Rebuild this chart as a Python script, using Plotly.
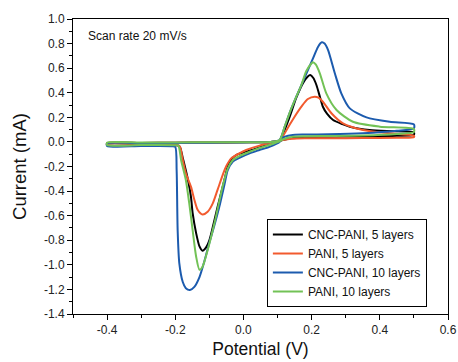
import plotly.graph_objects as go

# ---- data (potential V, current mA), closed CV loops ----
cnc5_v = [-0.4, -0.3, -0.2, -0.1, 0.0, 0.08, 0.105, 0.115, 0.135, 0.155, 0.175, 0.188, 0.196, 0.205, 0.214,
          0.225, 0.233, 0.245, 0.263, 0.29, 0.312, 0.34, 0.37, 0.42, 0.5,
          0.5, 0.45, 0.35, 0.25, 0.18, 0.14, 0.115, 0.1, 0.076, 0.047, 0.02, 0.0, -0.02, -0.035, -0.045,
          -0.056, -0.066, -0.076, -0.088, -0.1, -0.11, -0.12, -0.129, -0.139, -0.149, -0.154, -0.165,
          -0.178, -0.185, -0.19, -0.2, -0.3, -0.4, -0.4]
cnc5_i = [-0.01, -0.008, -0.006, -0.005, -0.003, 0.0, 0.008, 0.06, 0.2, 0.36, 0.48, 0.53, 0.544, 0.52, 0.463,
          0.36, 0.286, 0.23, 0.178, 0.145, 0.124, 0.108, 0.097, 0.088, 0.078,
          0.058, 0.05, 0.045, 0.042, 0.04, 0.03, 0.015, 0.003, -0.02, -0.045, -0.07, -0.085, -0.105, -0.14, -0.19,
          -0.31, -0.42, -0.53, -0.67, -0.8, -0.86, -0.885, -0.85, -0.74, -0.58, -0.446, -0.28,
          -0.13, -0.05, -0.03, -0.027, -0.026, -0.025, -0.01]

pani5_v = [-0.4, -0.3, -0.2, -0.1, 0.0, 0.08, 0.106, 0.121, 0.135, 0.15, 0.17, 0.189, 0.209, 0.22, 0.233,
           0.258, 0.292, 0.351, 0.429, 0.5,
           0.5, 0.45, 0.35, 0.25, 0.18, 0.14, 0.115, 0.106, 0.086, 0.047, 0.008, -0.012, -0.036, -0.051,
           -0.061, -0.076, -0.09, -0.105, -0.12, -0.134, -0.144, -0.154, -0.169, -0.178, -0.186, -0.19,
           -0.2, -0.3, -0.4, -0.4]
pani5_i = [-0.01, -0.008, -0.006, -0.005, -0.003, 0.0, 0.01, 0.07, 0.137, 0.205, 0.287, 0.349, 0.368, 0.36, 0.327,
           0.233, 0.151, 0.097, 0.07, 0.05,
           0.038, 0.034, 0.031, 0.03, 0.03, 0.025, 0.015, 0.01, -0.006, -0.03, -0.066, -0.093, -0.134, -0.2,
           -0.27, -0.39, -0.5, -0.568, -0.59, -0.554, -0.47, -0.364, -0.255, -0.147, -0.04, -0.03,
           -0.027, -0.026, -0.025, -0.01]

cnc10_v = [-0.4, -0.3, -0.2, -0.1, 0.0, 0.08, 0.106, 0.121, 0.135, 0.155, 0.17, 0.189, 0.204, 0.219, 0.23,
           0.238, 0.248, 0.268, 0.287, 0.312, 0.361, 0.429, 0.5,
           0.5, 0.45, 0.35, 0.25, 0.18, 0.14, 0.115, 0.106, 0.076, 0.047, 0.018, -0.012, -0.031, -0.046,
           -0.056, -0.071, -0.085, -0.1, -0.115, -0.129, -0.144, -0.157, -0.169, -0.178, -0.188, -0.193,
           -0.196, -0.2, -0.21, -0.3, -0.4, -0.4]
cnc10_i = [-0.012, -0.01, -0.008, -0.006, -0.004, 0.0, 0.015, 0.124, 0.233, 0.368, 0.463, 0.585, 0.68, 0.775, 0.81,
           0.8, 0.748, 0.558, 0.395, 0.273, 0.2, 0.164, 0.143,
           0.11, 0.09, 0.07, 0.062, 0.06, 0.055, 0.035, 0.0, -0.04, -0.066, -0.093, -0.13, -0.16, -0.23,
           -0.35, -0.53, -0.676, -0.82, -0.975, -1.1, -1.18, -1.205, -1.19, -1.14, -0.99, -0.72,
           -0.23, -0.04, -0.035, -0.034, -0.033, -0.012]

pani10_v = [-0.4, -0.3, -0.2, -0.1, 0.0, 0.08, 0.106, 0.121, 0.135, 0.155, 0.17, 0.184, 0.2, 0.204, 0.212,
            0.224, 0.243, 0.273, 0.321, 0.4, 0.5,
            0.5, 0.45, 0.35, 0.25, 0.18, 0.14, 0.115, 0.106, 0.076, 0.047, 0.018, -0.012, -0.031, -0.046,
            -0.061, -0.085, -0.11, -0.12, -0.129, -0.139, -0.149, -0.159, -0.169, -0.183, -0.191, -0.2,
            -0.3, -0.4, -0.4]
pani10_i = [-0.006, -0.005, -0.004, -0.003, -0.002, 0.0, 0.015, 0.124, 0.233, 0.368, 0.463, 0.575, 0.64, 0.648, 0.63,
            0.558, 0.395, 0.26, 0.164, 0.124, 0.105,
            0.08, 0.065, 0.052, 0.048, 0.046, 0.04, 0.02, 0.005, -0.025, -0.05, -0.08, -0.115, -0.147, -0.215,
            -0.36, -0.66, -0.93, -1.015, -1.04, -0.93, -0.72, -0.5, -0.31, -0.147, -0.03, -0.027,
            -0.026, -0.025, -0.006]

series_names = ["CNC-PANI, 5 layers", "PANI, 5 layers", "CNC-PANI, 10 layers", "PANI, 10 layers"]
series_colors = ["#000000", "#F25A2E", "#1C5BAE", "#72C256"]

x_tickvals = [-0.4, -0.2, 0.0, 0.2, 0.4, 0.6]
x_ticktext = ["-0.4", "-0.2", "0.0", "0.2", "0.4", "0.6"]
y_tickvals = [1.0, 0.8, 0.6, 0.4, 0.2, 0.0, -0.2, -0.4, -0.6, -0.8, -1.0, -1.2, -1.4]
y_ticktext = ["1.0", "0.8", "0.6", "0.4", "0.2", "0.0", "-0.2", "-0.4", "-0.6", "-0.8", "-1.0", "-1.2", "-1.4"]

data = [(cnc5_v, cnc5_i), (pani5_v, pani5_i), (cnc10_v, cnc10_i), (pani10_v, pani10_i)]

FONT = "Liberation Sans, Arial, sans-serif"
fig = go.Figure()
for (v, i), name, color in zip(data, series_names, series_colors):
    fig.add_trace(go.Scatter(x=v, y=i, mode="lines", name=name,
                             line=dict(color=color, width=2, shape="spline", smoothing=0.7)))

axis_common = dict(showline=True, linecolor="black", linewidth=1, mirror=True,
                   ticks="outside", ticklen=5, tickwidth=1, tickcolor="black",
                   showgrid=False, zeroline=False, automargin=False,
                   tickfont=dict(family=FONT, size=12, color="#222"))

fig.update_xaxes(range=[-0.5, 0.6], tickvals=x_tickvals, ticktext=x_ticktext,
                 minor=dict(ticks="outside", ticklen=3, tickwidth=1, tickcolor="black", dtick=0.1, tick0=0),
                 title=dict(text="Potential (V)", font=dict(family=FONT, size=17.5, color="#111"), standoff=6),
                 **axis_common)
fig.update_yaxes(range=[-1.4, 1.0], tickvals=y_tickvals, ticktext=y_ticktext,
                 minor=dict(ticks="outside", ticklen=3, tickwidth=1, tickcolor="black", dtick=0.1, tick0=0),
                 title=dict(text="Current (mA)", font=dict(family=FONT, size=18.5, color="#111"), standoff=12),
                 **axis_common)

fig.add_annotation(text="Scan rate 20 mV/s", xref="paper", yref="paper", x=0.035, y=0.942,
                   xanchor="left", yanchor="middle", showarrow=False,
                   font=dict(family=FONT, size=12, color="#111"))

fig.update_layout(
    width=458, height=362,
    margin=dict(l=73, r=10, t=19, b=48, autoexpand=False),
    paper_bgcolor="white", plot_bgcolor="white",
    legend=dict(x=0.517, y=0.322, xanchor="left", yanchor="top",
                bordercolor="black", borderwidth=1, bgcolor="white",
                font=dict(family=FONT, size=12, color="#111"),
                tracegroupgap=0, itemwidth=30),
    showlegend=True,
)

fig.write_html("out.html")
